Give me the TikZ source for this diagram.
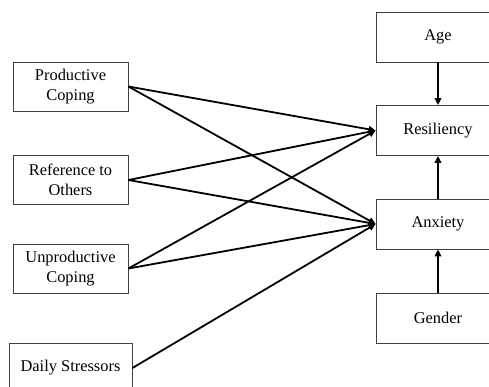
\documentclass[tikz,border=0pt]{standalone}
\usepackage{fontspec}
\setmainfont{Liberation Serif}
\usetikzlibrary{arrows.meta}

\tikzset{
  varbox/.style={draw=black!75, line width=0.8pt, fill=white, rectangle, align=center,
    minimum width=115pt, minimum height=49pt, inner sep=0pt,
    font=\fontsize{16.4}{19.5}\selectfont},
  outbox/.style={varbox, minimum width=124pt, minimum height=50pt},
  path/.style={line width=1.8pt, -{Triangle[length=7pt, width=6.5pt]}}
}

\begin{document}
\begin{tikzpicture}[x=1pt, y=-1pt]
  % Fix the frame to the size of the reference
  \useasboundingbox (0,0) rectangle (489,386);

  % Predictors on the left
  \node[varbox] (prod) at (70.5,86.5) {Productive\\Coping};
  \node[varbox] (ref) at (70.5,180) {Reference to\\Others};
  \node[varbox] (unprod) at (70.5,268.5) {Unproductive\\Coping};
  \node[varbox, minimum width=123pt] (daily) at (70.5,368) {Daily Stressors};

  % Outcomes and controls on the right
  \node[outbox] (age) at (438,37) {Age};
  \node[outbox] (resil) at (438,130.5) {Resiliency};
  \node[outbox] (anx) at (438,224) {Anxiety};
  \node[outbox] (gender) at (438,318) {Gender};

  % Paths to resiliency and anxiety
  \draw[path] (prod.east) -- (resil.west);
  \draw[path] (prod.east) -- (anx.west);
  \draw[path] (ref.east) -- (resil.west);
  \draw[path] (ref.east) -- (anx.west);
  \draw[path] (unprod.east) -- (resil.west);
  \draw[path] (unprod.east) -- (anx.west);
  \draw[path] (daily.east) -- (anx.west);

  % Vertical paths
  \draw[path] (age.south) -- (resil.north);
  \draw[path] (anx.north) -- (resil.south);
  \draw[path] (gender.north) -- (anx.south);
\end{tikzpicture}
\end{document}
